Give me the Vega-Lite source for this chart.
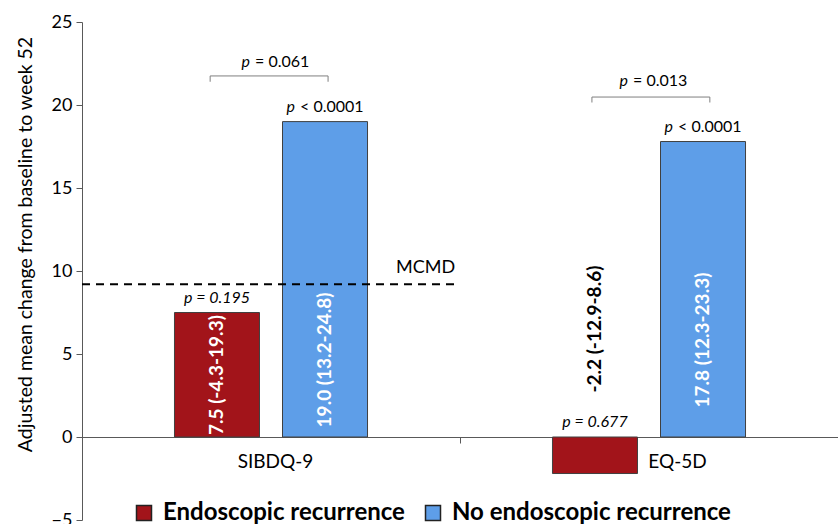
{
  "$schema": "https://vega.github.io/schema/vega-lite/v6.json",
  "width": 756,
  "height": 498,
  "autosize": {"type": "none"},
  "padding": {"left": 82, "top": 22, "right": 0, "bottom": 4},
  "background": "white",
  "config": {
    "font": "Lato",
    "view": {"stroke": null},
    "axis": {"labelFont": "Lato", "titleFont": "Lato"},
    "legend": {"labelFont": "Lato"}
  },
  "datasets": {
    "bars": [
      {"measure": "SIBDQ-9", "group": "Endoscopic recurrence", "value": 7.5, "ci": "7.5 (-4.3-19.3)", "labelAt": 3.73, "pFull": "p = 0.195", "pLetter": "", "pRest": ""},
      {"measure": "SIBDQ-9", "group": "No endoscopic recurrence", "value": 19.0, "ci": "19.0 (13.2-24.8)", "labelAt": 4.64, "pFull": "", "pLetter": "p", "pRest": "< 0.0001"},
      {"measure": "EQ-5D", "group": "Endoscopic recurrence", "value": -2.2, "ci": "-2.2 (-12.9-8.6)", "labelAt": 6.5, "pFull": "p = 0.677", "pLetter": "", "pRest": ""},
      {"measure": "EQ-5D", "group": "No endoscopic recurrence", "value": 17.8, "ci": "17.8 (12.3-23.3)", "labelAt": 5.84, "pFull": "", "pLetter": "p", "pRest": "< 0.0001"}
    ],
    "brackets": [
      {"from": 0.339, "to": 0.651, "y": 21.75, "tick": 21.4, "mid": 0.516, "labelY": 22.6, "pLetter": "p", "pRest": "= 0.061"},
      {"from": 1.349, "to": 1.661, "y": 20.48, "tick": 20.15, "mid": 1.516, "labelY": 21.45, "pLetter": "p", "pRest": "= 0.013"}
    ],
    "mcmd": [{"y": 9.2, "start": 0, "end": 0.987, "label": "MCMD", "labelY": 10.2}]
  },
  "resolve": {"scale": {"x": "independent"}, "axis": {"x": "independent"}},
  "layer": [
    {
      "transform": [{"calculate": "max(datum.value, 0)", "as": "top"}],
      "data": {"name": "bars"},
      "encoding": {
        "x": {
          "field": "measure", "type": "nominal", "sort": ["SIBDQ-9", "EQ-5D"],
          "scale": {"paddingInner": 0, "paddingOuter": 0},
          "axis": {
            "title": null, "orient": "bottom", "offset": -83, "labelAngle": 0,
            "domainColor": "#595959", "tickColor": "#595959", "tickSize": 6, "tickBand": "extent",
            "labelFontSize": 19, "labelColor": "black", "labelPadding": 9,
            "labelOffset": {"condition": {"test": "datum.value === 'EQ-5D'", "value": 28}, "value": 4}
          }
        },
        "xOffset": {
          "field": "group", "type": "nominal",
          "sort": ["Endoscopic recurrence", "No endoscopic recurrence"],
          "scale": {"paddingInner": 0.213, "paddingOuter": 0.856}
        }
      },
      "layer": [
        {
          "mark": {"type": "bar", "stroke": "#404040", "strokeWidth": 1},
          "encoding": {
            "y": {
              "field": "value", "type": "quantitative",
              "scale": {"domain": [-5, 25], "nice": false, "zero": false},
              "axis": {
                "values": [-5, 0, 5, 10, 15, 20, 25], "grid": false,
                "title": "Adjusted mean change from baseline to week 52",
                "titleFontSize": 19.5, "titleFontWeight": "normal", "titleColor": "black", "titlePadding": 16, "titleY": 222,
                "labelFontSize": 18, "labelColor": "black", "labelPadding": 4,
                "domainColor": "#595959", "tickColor": "#595959", "tickSize": 6
              }
            },
            "color": {
              "field": "group", "type": "nominal",
              "scale": {"domain": ["Endoscopic recurrence", "No endoscopic recurrence"], "range": ["#A2141A", "#5E9EE8"]},
              "legend": {
                "orient": "none", "legendX": 50, "legendY": 479, "direction": "horizontal", "title": null,
                "labelFontSize": 24, "labelFontWeight": "bold", "labelColor": "black", "labelLimit": 0,
                "symbolType": "square", "symbolSize": 225, "symbolStrokeColor": "#222222", "symbolStrokeWidth": 1.5,
                "symbolOpacity": 1, "columnPadding": 16, "labelOffset": 7
              }
            }
          }
        },
        {
          "mark": {"type": "text", "angle": 270, "fontSize": 19, "fontWeight": "bold", "align": "center", "baseline": "middle"},
          "encoding": {
            "y": {"field": "labelAt", "type": "quantitative"},
            "text": {"field": "ci"},
            "color": {"condition": {"test": "datum.value < 0", "value": "black"}, "value": "white"}
          }
        },
        {
          "mark": {"type": "text", "fontSize": 16, "fontStyle": "italic", "align": "center", "baseline": "middle", "dy": -15, "color": "black"},
          "encoding": {"y": {"field": "top", "type": "quantitative"}, "text": {"field": "pFull"}}
        },
        {
          "mark": {"type": "text", "fontSize": 16, "fontStyle": "italic", "align": "right", "baseline": "middle", "dy": -15, "dx": -30, "color": "black"},
          "encoding": {"y": {"field": "top", "type": "quantitative"}, "text": {"field": "pLetter"}}
        },
        {
          "mark": {"type": "text", "fontSize": 16, "align": "left", "baseline": "middle", "dy": -15, "dx": -25, "color": "black"},
          "encoding": {"y": {"field": "top", "type": "quantitative"}, "text": {"field": "pRest"}}
        }
      ]
    },
    {
      "layer": [
        {
          "data": {"name": "brackets"},
          "layer": [
            {
              "mark": {"type": "rule", "color": "#7f7f7f", "strokeWidth": 1},
              "encoding": {
                "x": {"field": "from", "type": "quantitative", "scale": {"domain": [0, 2]}, "axis": null},
                "x2": {"field": "to"},
                "y": {"field": "y", "type": "quantitative"}
              }
            },
            {
              "mark": {"type": "rule", "color": "#7f7f7f", "strokeWidth": 1},
              "encoding": {
                "x": {"field": "from", "type": "quantitative", "scale": {"domain": [0, 2]}, "axis": null},
                "y": {"field": "y", "type": "quantitative"},
                "y2": {"field": "tick"}
              }
            },
            {
              "mark": {"type": "rule", "color": "#7f7f7f", "strokeWidth": 1},
              "encoding": {
                "x": {"field": "to", "type": "quantitative", "scale": {"domain": [0, 2]}, "axis": null},
                "y": {"field": "y", "type": "quantitative"},
                "y2": {"field": "tick"}
              }
            },
            {
              "mark": {"type": "text", "fontSize": 16, "fontStyle": "italic", "align": "right", "baseline": "middle", "dx": -27, "color": "black"},
              "encoding": {
                "x": {"field": "mid", "type": "quantitative", "scale": {"domain": [0, 2]}, "axis": null},
                "y": {"field": "labelY", "type": "quantitative"},
                "text": {"field": "pLetter"}
              }
            },
            {
              "mark": {"type": "text", "fontSize": 16, "align": "left", "baseline": "middle", "dx": -22, "color": "black"},
              "encoding": {
                "x": {"field": "mid", "type": "quantitative", "scale": {"domain": [0, 2]}, "axis": null},
                "y": {"field": "labelY", "type": "quantitative"},
                "text": {"field": "pRest"}
              }
            }
          ]
        },
        {
          "data": {"name": "mcmd"},
          "layer": [
            {
              "mark": {"type": "rule", "color": "black", "strokeWidth": 2, "strokeDash": [8, 6]},
              "encoding": {
                "x": {"field": "start", "type": "quantitative", "scale": {"domain": [0, 2]}, "axis": null},
                "x2": {"field": "end"},
                "y": {"field": "y", "type": "quantitative"}
              }
            },
            {
              "mark": {"type": "text", "fontSize": 18, "align": "right", "baseline": "middle", "color": "black"},
              "encoding": {
                "x": {"field": "end", "type": "quantitative", "scale": {"domain": [0, 2]}, "axis": null},
                "y": {"field": "labelY", "type": "quantitative"},
                "text": {"field": "label"}
              }
            }
          ]
        }
      ]
    }
  ]
}
